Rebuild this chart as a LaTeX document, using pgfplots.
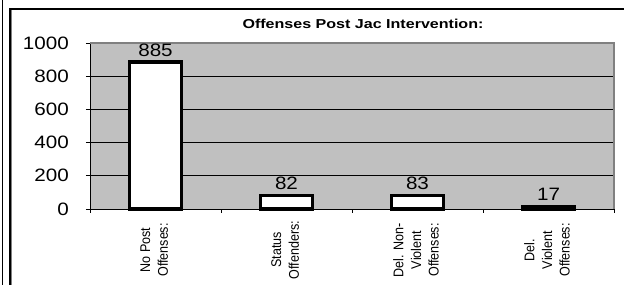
\documentclass[border=0pt]{standalone}
\usepackage{pgfplots}
\pgfplotsset{compat=1.18}
\usepackage{graphicx}
\usepackage{fontspec}
\setmainfont{Liberation Sans}
\definecolor{plotgray}{HTML}{C0C0C0}
\definecolor{bordergray}{HTML}{808080}
\newcommand\xl[1]{\scalebox{1}[1.12]{\begin{tabular}{@{}c@{}}#1\end{tabular}}}
\begin{document}
\begin{tikzpicture}
\path[use as bounding box] (0,0) rectangle (624bp,285bp);
% outer frames
\draw[black, line width=0.9bp] (2.2bp,0) -- (2.2bp,285bp);
\draw[bordergray, line width=1bp] (11.8bp,0) -- (11.8bp,275bp) -- (624bp,275bp);
\draw[black, line width=2.2bp] (10.3bp,0) -- (10.3bp,276.3bp) -- (624bp,276.3bp);
\begin{axis}[
  at={(90bp,76bp)}, anchor=south west,
  scale only axis, width=524bp, height=166bp,
  xmin=-0.5, xmax=3.5, ymin=0, ymax=1000,
  axis x line*=bottom, axis y line*=left,
  axis line style={-, black, line width=0.9bp},
  axis background/.style={fill=plotgray},
  ytick={0,200,400,600,800,1000},
  /pgf/number format/assume math mode=true,
  /pgf/number format/1000 sep={},
  tick align=outside, major tick length=4bp,
  tick style={black, line width=0.8bp},
  yticklabel={\scalebox{1.15}[1]{\pgfmathprintnumber{\tick}}},
  yticklabel style={font=\fontsize{18}{20}\selectfont, anchor=east, inner sep=0pt, xshift=-17bp},
  xtick={-0.5,0.5,1.5,2.5,3.5},
  xticklabels={},
  extra x ticks={0,1,2,3},
  extra x tick labels={{\xl{No Post\\Offenses:}},{\xl{Status\\Offenders:}},{\xl{Del. Non-\\Violent\\Offenses:}},{\xl{Del.\\Violent\\Offenses:}}},
  extra x tick style={
    tick style={draw=none},
    xticklabel style={font=\fontsize{12.6}{15.8}\selectfont, yshift=-37bp, rotate=90, anchor=center, inner sep=0pt},
    grid=none},
  ymajorgrids,
  major grid style={black, line width=0.8bp},
  ybar, bar width=52bp,
  nodes near coords={\scalebox{1.15}[1]{\pgfmathprintnumber{\pgfplotspointmeta}}},
  every node near coord/.append style={font=\fontsize{18}{20}\selectfont, black, inner sep=4bp},
  clip=false,
]
\addplot[fill=white, draw=black, line width=3.3bp] coordinates {(0,885) (1,82) (2,83) (3,17)};
\draw[bordergray, line width=2bp] (rel axis cs:0,1) -- (rel axis cs:1,1) -- (rel axis cs:1,0);
\end{axis}
\node[font=\bfseries\fontsize{13}{15}\selectfont, anchor=base] at (363bp,256bp) {\scalebox{1.24}[1]{Offenses Post Jac Intervention:}};
\end{tikzpicture}
\end{document}
